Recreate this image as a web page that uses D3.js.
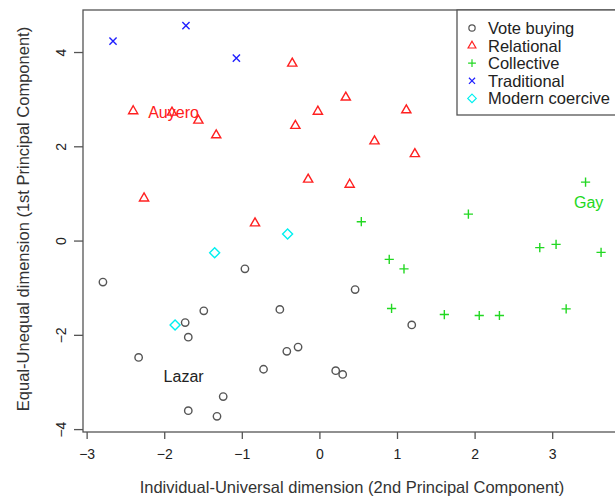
<!DOCTYPE html>
<html>
<head>
<meta charset="utf-8">
<script src="https://cdn.jsdelivr.net/npm/d3@7"></script>
<style>
  body { margin: 0; background: white; }
  svg { display: block; font-family: "Liberation Sans", Arial, sans-serif; }
</style>
</head>
<body>
<div id="chart"></div>
<script>
const width = 615;
const height = 497;
// plot box (right edge runs past the window, as in the original)
const boxLeft = 83;
const boxRight = 621;
const boxTop = 10;
const boxBottom = 432;

// Data
const voteBuyingX = [-2.79, -0.96, -1.49, -0.51, -1.73, -1.69, -2.33, -0.42, -0.275, -0.72, -1.24, -1.69, -1.32, 0.46, 1.19, 0.21, 0.30];
const voteBuyingY = [-0.88, -0.60, -1.49, -1.46, -1.74, -2.05, -2.48, -2.35, -2.26, -2.73, -3.31, -3.61, -3.73, -1.04, -1.79, -2.76, -2.84];

const relationalX = [-0.35, -2.40, -1.90, -1.56, -1.33, -0.02, -0.31, -0.145, -2.26, -0.83, 0.34, 1.12, 0.71, 1.23, 0.39];
const relationalY = [3.76, 2.75, 2.72, 2.55, 2.24, 2.74, 2.44, 1.30, 0.90, 0.37, 3.04, 2.77, 2.11, 1.84, 1.19];

const collectiveX = [3.43, 1.92, 0.54, 0.90, 1.09, 2.84, 3.05, 3.63, 0.93, 1.61, 2.06, 2.32, 3.18];
const collectiveY = [1.24, 0.56, 0.40, -0.40, -0.60, -0.15, -0.08, -0.25, -1.44, -1.57, -1.59, -1.59, -1.45];

const traditionalX = [-2.66, -1.72, -1.07];
const traditionalY = [4.23, 4.56, 3.87];

const modernX = [-1.35, -0.41, -1.86];
const modernY = [-0.26, 0.14, -1.79];

const groupNames = ['Vote buying', 'Relational', 'Collective', 'Traditional', 'Modern coercive'];
const groupColors = ['#555555', '#ff2020', '#22d822', '#2020ff', '#00f0f0'];

const caseLabels = ['Auyero', 'Lazar', 'Gay'];
const caseLabelX = [-1.88, -1.75, 3.47];
const caseLabelY = [2.73, -2.88, 0.81];
const caseLabelGroup = [1, 0, 2];

const xTicks = [-3, -2, -1, 0, 1, 2, 3];
const yTicks = [-4, -2, 0, 2, 4];

// Build point table
const groups = [
  [voteBuyingX, voteBuyingY],
  [relationalX, relationalY],
  [collectiveX, collectiveY],
  [traditionalX, traditionalY],
  [modernX, modernY]
];
const points = [];
groups.forEach(([xs, ys], g) => {
  xs.forEach((x, i) => points.push({ x, y: ys[i], group: g }));
});

// Marker shapes, one per group (R pch 1..5)
const shapes = [
  null,
  'M0,-5.2L4.6,2.8L-4.6,2.8Z',
  'M-4.6,0H4.6M0,-4.6V4.6',
  'M-3.6,-3.6L3.6,3.6M-3.6,3.6L3.6,-3.6',
  'M0,-5L5,0L0,5L-5,0Z'
];

// Scales (R style 4% padding around the data range)
const xExtent = d3.extent(points, d => d.x);
const yExtent = d3.extent(points, d => d.y);
const xPad = (xExtent[1] - xExtent[0]) * 0.04;
const yPad = (yExtent[1] - yExtent[0]) * 0.04;

const x = d3.scaleLinear()
  .domain([xExtent[0] - xPad, xExtent[1] + xPad])
  .range([boxLeft, boxRight]);

const y = d3.scaleLinear()
  .domain([yExtent[0] - yPad, yExtent[1] + yPad])
  .range([boxBottom, boxTop]);

const svg = d3.select('#chart')
  .append('svg')
  .attr('width', width)
  .attr('height', height);

// Points
function drawMarker(sel, g) {
  if (g === 0) {
    sel.append('circle')
      .attr('r', 3.7)
      .attr('fill', 'none')
      .attr('stroke', groupColors[g])
      .attr('stroke-width', 1.4);
  } else {
    sel.append('path')
      .attr('d', shapes[g])
      .attr('fill', 'none')
      .attr('stroke', groupColors[g])
      .attr('stroke-width', 1.4);
  }
}

svg.append('g')
  .selectAll('g')
  .data(points)
  .enter()
  .append('g')
  .attr('transform', d => `translate(${x(d.x)},${y(d.y)})`)
  .each(function(d) { drawMarker(d3.select(this), d.group); });

// Case labels
svg.append('g')
  .selectAll('text')
  .data(caseLabels)
  .enter()
  .append('text')
  .attr('x', (d, i) => x(caseLabelX[i]))
  .attr('y', (d, i) => y(caseLabelY[i]))
  .attr('dy', '0.36em')
  .attr('text-anchor', 'middle')
  .attr('font-size', 16)
  .attr('fill', (d, i) => caseLabelGroup[i] === 0 ? '#222' : groupColors[caseLabelGroup[i]])
  .text(d => d);

// Plot box
svg.append('rect')
  .attr('x', boxLeft)
  .attr('y', boxTop)
  .attr('width', boxRight - boxLeft)
  .attr('height', boxBottom - boxTop)
  .attr('fill', 'none')
  .attr('stroke', '#555')
  .attr('stroke-width', 1.3);

// X axis
const xAxis = svg.append('g')
  .attr('transform', `translate(0,${boxBottom})`)
  .call(d3.axisBottom(x).tickValues(xTicks).tickSize(7).tickPadding(10).tickFormat(d3.format('d')));
xAxis.select('.domain').remove();
xAxis.selectAll('line').attr('stroke', '#555').attr('stroke-width', 1.3);
xAxis.selectAll('text')
  .attr('font-size', 14)
  .attr('font-family', '"Liberation Sans", Arial, sans-serif')
  .attr('fill', '#222');

// Y axis, labels rotated like R's las=0
const yAxis = svg.append('g')
  .attr('transform', `translate(${boxLeft},0)`)
  .call(d3.axisLeft(y).tickValues(yTicks).tickSize(9).tickFormat(d3.format('d')));
yAxis.select('.domain').remove();
yAxis.selectAll('line').attr('stroke', '#555').attr('stroke-width', 1.3);
yAxis.selectAll('text')
  .attr('font-size', 14)
  .attr('font-family', '"Liberation Sans", Arial, sans-serif')
  .attr('fill', '#222')
  .attr('x', null)
  .attr('dy', null)
  .attr('text-anchor', 'middle')
  .attr('transform', 'translate(-21,0) rotate(-90)')
  .attr('y', 0)
  .attr('dominant-baseline', 'middle');

// Axis titles
svg.append('text')
  .attr('x', (boxLeft + boxRight) / 2)
  .attr('y', 493)
  .attr('text-anchor', 'middle')
  .attr('font-size', 16.5)
  .attr('fill', '#333')
  .text('Individual-Universal dimension (2nd Principal Component)');

svg.append('text')
  .attr('transform', `translate(29,${(boxTop + boxBottom) / 2 - 2}) rotate(-90)`)
  .attr('text-anchor', 'middle')
  .attr('font-size', 16.5)
  .attr('fill', '#333')
  .text('Equal-Unequal dimension (1st Principal Component)');

// Legend
const legendLeft = 457;
const legendBottom = 115;
svg.append('rect')
  .attr('x', legendLeft)
  .attr('y', boxTop)
  .attr('width', boxRight - legendLeft)
  .attr('height', legendBottom - boxTop)
  .attr('fill', 'white')
  .attr('stroke', '#555')
  .attr('stroke-width', 1.3);

const legend = svg.append('g')
  .selectAll('g')
  .data(groupNames)
  .enter()
  .append('g')
  .attr('transform', (d, i) => `translate(472,${28 + i * 17.6})`);

legend.each(function(d, i) {
  const g = d3.select(this);
  const m = g.append('g').attr('transform', 'scale(0.85)');
  drawMarker(m, i);
  g.append('text')
    .attr('x', 16)
    .attr('dy', '0.36em')
    .attr('font-size', 16.5)
    .attr('fill', '#222')
    .text(d);
});
</script>
</body>
</html>
